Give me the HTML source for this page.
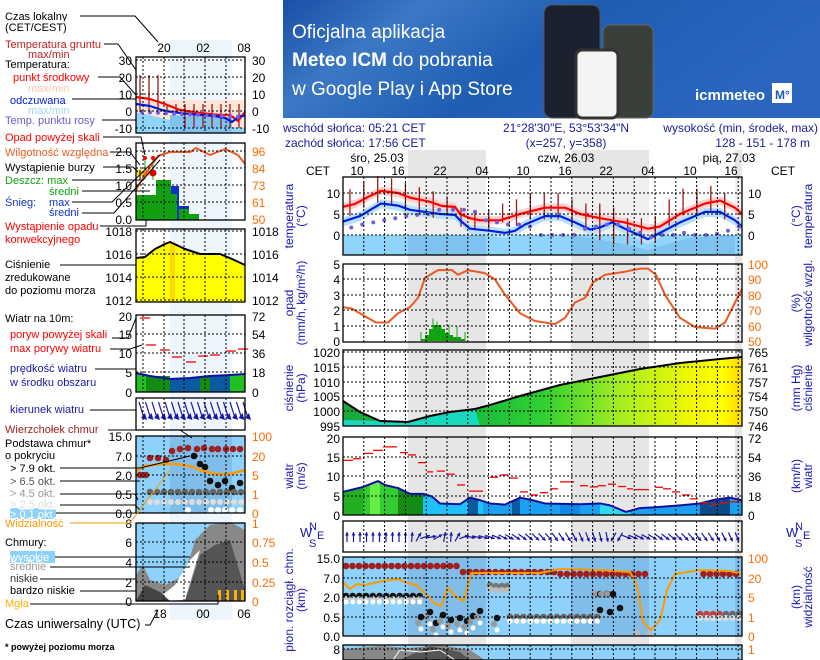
<!DOCTYPE html>
<html><head><meta charset="utf-8"><style>
html,body{margin:0;padding:0;background:#fff;width:820px;height:660px;overflow:hidden}
svg{display:block;font-family:"Liberation Sans",sans-serif}
</style></head><body>
<svg id="s" width="820" height="660" viewBox="0 0 820 660" xmlns="http://www.w3.org/2000/svg">
<defs>
<linearGradient id="ban" x1="0" y1="0" x2="1" y2="0.3"><stop offset="0" stop-color="#1a4fa8"/><stop offset="0.25" stop-color="#3b78c4"/><stop offset="0.55" stop-color="#1f5db4"/><stop offset="1" stop-color="#2a66c0"/></linearGradient>
<linearGradient id="pres" x1="0" y1="0" x2="1" y2="0"><stop offset="0" stop-color="#1aa83c"/><stop offset="0.3" stop-color="#16b840"/><stop offset="0.5" stop-color="#2fd030"/><stop offset="0.7" stop-color="#a8ee20"/><stop offset="0.88" stop-color="#f4f800"/><stop offset="0.95" stop-color="#ffff00"/><stop offset="1" stop-color="#ffd800"/></linearGradient>
</defs>
<rect x="283" y="0" width="537" height="118" fill="url(#ban)"/>
<text x="292" y="38" fill="#fff" font-size="19">Oficjalna aplikacja</text>
<text x="292" y="66" fill="#fff" font-size="19"><tspan font-weight="bold">Meteo ICM</tspan> do pobrania</text>
<text x="292" y="95" fill="#fff" font-size="19">w Google Play i App Store</text>
<rect x="544" y="5" width="56" height="113" rx="8" fill="#1a2230" stroke="#555"/>
<rect x="603" y="25" width="50" height="93" rx="7" fill="#3a3f3a" stroke="#666"/>
<rect x="576" y="50" width="42" height="68" rx="6" fill="#f4f4f4" stroke="#333" stroke-width="3"/>
<text x="695" y="100" fill="#fff" font-size="15" font-weight="bold">icmmeteo</text>
<rect x="772" y="83" width="20" height="20" fill="#fff"/><text x="775" y="99" fill="#1f5db4" font-size="12" font-weight="bold">M°</text>
</svg>
<script>
const S=document.getElementById('s');const NS='http://www.w3.org/2000/svg';
let PAR=S;
function el(t,a,txt){const e=document.createElementNS(NS,t);for(const k in a)e.setAttribute(k,a[k]);if(txt!==undefined)e.textContent=txt;PAR.appendChild(e);return e;}
function T(x,y,s,o){o=o||{};return el('text',Object.assign({x:x,y:y,'font-size':o.fs||12,fill:o.c||'#000','text-anchor':o.a||'start'},o.attr||{}),s);}
function L(x1,y1,x2,y2,c,w,d){return el('line',{x1,y1,x2,y2,stroke:c||'#000','stroke-width':w||1,'stroke-dasharray':d||''});}
function R(x,y,w,h,f,o){return el('rect',Object.assign({x,y,width:w,height:h,fill:f},o||{}));}
function P(pts,c,w,f){return el('polyline',{points:pts.map(p=>p.join(',')).join(' '),fill:f||'none',stroke:c,'stroke-width':w||1,'stroke-linejoin':'round'});}
function G(pts,f){return el('polygon',{points:pts.map(p=>p.join(',')).join(' '),fill:f});}
function C(x,y,r,f){return el('circle',{cx:x,cy:y,r:r,fill:f});}
function clipGroup(id,pts){const cp=el('clipPath',{id:id});PAR=cp;G(pts,'#000');PAR=S;const g=el('g',{'clip-path':'url(#'+id+')'});PAR=g;return g;}
// ---------- MAIN ----------
const X0=343,X1=742;const hx=t=>X0+t*6.94;
const panels=[[177,255],[264,342],[350,426],[437,515],[521,552],[557,636],[645,670]];
T(283,132,'wschód słońca: 05:21 CET',{c:'#1a1aa0'});T(285,147,'zachód słońca: 17:56 CET',{c:'#1a1aa0'});
T(566,132,'21°28\'30"E, 53°53\'34"N',{c:'#1a1aa0',a:'middle'});T(566,147,'(x=257,  y=358)',{c:'#1a1aa0',a:'middle'});
T(818,132,'wysokość (min, środek, max)',{c:'#1a1aa0',a:'end'});T(810,147,'128 - 151 - 178 m',{c:'#1a1aa0',a:'end'});
[[408,486],[571,649],[735,742]].forEach(b=>R(b[0],150,b[1]-b[0],510,'#e6e6e6'));
T(377,162,'śro, 25.03',{a:'middle'});T(566,162,'czw, 26.03',{a:'middle'});T(729,162,'pią, 27.03',{a:'middle'});
T(318,175,'CET',{a:'middle'});T(783,175,'CET',{a:'middle'});
[['10',357],['16',398],['22',440],['04',482],['10',523],['16',565],['22',606],['04',648],['10',690],['16',731]].forEach(h=>T(h[1],175,h[0],{a:'middle'}));
const ty=v=>235-v*4.2;
R(X0,177,X1-X0,78,'#fff');
[[408,486],[571,649],[735,742]].forEach(b=>R(b[0],177,b[1]-b[0],78,'#efefef'));
R(X0,235,X1-X0,20,'#8fd4fb');
G([[486,235],[571,235],[600,237],[648,244],[660,241],[680,235],[742,235],[742,255],[486,255]],'#8fd4fb');
G([[571,235],[600,240],[625,244],[648,250],[660,246],[690,238],[735,235],[735,255],[571,255]],'#7ec2ef');
R(408,235,78,20,'#7ec2ef');
const red=[[343,6.7],[355,7.4],[370,9.3],[381,10.5],[398,10],[410,8.9],[430,7.9],[442,6.9],[455,6.7],[460,5],[470,4],[480,3.5],[500,3.5],[520,5],[545,6.5],[565,6.5],[580,5],[600,4],[625,3],[648,1.5],[660,2],[680,5],[705,7.5],[720,8.2],[735,6.5],[742,5]];
const blu=[[343,3.2],[360,4.5],[381,7.5],[398,7],[410,6],[440,5],[455,4.8],[460,3.5],[470,1.5],[490,1],[505,0.5],[515,1],[525,2.5],[545,4.5],[560,4.5],[575,3],[590,1.3],[600,1.8],[612,3],[625,1.5],[648,-1],[660,0.5],[680,3],[705,5.5],[720,5.5],[735,3.5],[742,2]];
G(red.map(p=>[p[0],ty(p[1]+1)]).concat(red.slice().reverse().map(p=>[p[0],ty(p[1]-1)])),'#ffd0d0');
G(blu.map(p=>[p[0],ty(p[1]+1)]).concat(blu.slice().reverse().map(p=>[p[0],ty(p[1]-1.2)])),'#b8e2fb');
for(let t=1;t<57;t+=2){const x=hx(t);let base=red.find(p=>p[0]>=x)||red[red.length-1];let tv=base[1];let amp=(t<14||(t>24&&t<40)||t>46)?3.5:2.5;L(x,ty(tv+amp),x,ty(tv-amp*(t>36&&t<47?1.5:0.8)),'#a01818',1.3);}
P(red.map(p=>[p[0],ty(p[1])]),'#f00',2.2);P(blu.map(p=>[p[0],ty(p[1])]),'#0020e0',2.2);
const dew=[[1.5,1.8],[3.5,2.5],[5.5,3],[7.5,3.5],[9.5,4],[11.5,4.5],[13.5,4.8],[15.5,5],[17.5,6],[20,6],[22,6],[24,5.5],[26,3.5],[28,3],[30,2.5],[32,2.5],[34,2],[36,0],[38,0],[40,0],[42,0],[44,1.5],[46,2],[48,2.5],[50,2.5],[52,1.5],[54,0.5],[56,-0.5],[58,0],[60,0],[62,0.5],[64,0],[66,0],[68,0.3],[70,1],[72,2]];
dew.forEach(d=>{const x=343+d[0]*5.5;if(x<742)C(x,ty(d[1]),2,'#7060e0');});
const ry=v=>341-(v-50)*1.54;
[[421,1],[425,3],[429,6],[433,8],[437,8],[441,6],[445,4],[449,3],[453,2],[457,2],[461,1]].forEach(b=>{R(b[0],341-b[1]*2,4,b[1]*2,'#10a010');});
[[421,6],[433,15],[437,13],[441,10],[449,11],[457,10],[465,6]].forEach(b=>L(b[0],341,b[0],341-b[1]*1.5,'#10b010'));
P([[343,72],[352,71],[365,66],[376,62],[388,62],[398,68],[410,72],[418,78],[425,91],[438,96],[452,96],[458,93],[468,96],[485,94],[495,90],[505,80],[520,68],[535,63],[555,61],[565,65],[575,75],[585,78],[593,88],[605,93],[625,95],[640,97],[648,97],[656,93],[665,80],[680,65],[695,59],[715,58],[725,62],[735,75],[742,84]].map(p=>[p[0],ry(p[1])]),'#ec5a20',2);
const pp=[[343,401],[360,412],[380,421],[408,422],[430,416],[450,412],[475,409],[490,405],[520,396],[560,385],[600,377],[640,369],[680,363],[720,359],[742,357]];
G(pp.concat([[742,426],[343,426]]),'url(#pres)');
G([[343,420],[380,421],[408,422],[430,416],[450,412],[475,409],[480,426],[343,426]],'#19d8c0');
P(pp,'#000',2);
// wind
const wy=v=>515-v*3.85;
const wv=[[343,6],[362,7.2],[378,8.8],[385,7.8],[398,7],[410,5.5],[423,5.5],[432,4.8],[440,3],[460,2.8],[470,4.5],[478,4],[490,3],[505,2.7],[520,4.5],[530,4],[545,3],[580,2.8],[600,3],[610,2.5],[626,0.8],[640,1.8],[655,2],[680,2.5],[700,3],[715,4],[730,4.5],[742,3.8]];
const wpts=wv.map(p=>[p[0],wy(p[1])]);
clipGroup('wclip',wpts.concat([[742,515],[343,515]]));
R(343,437,80,78,'#33cc33');R(343,437,20,78,'#22b022');R(370,437,10,78,'#66ee44');R(398,437,25,78,'#128c12');
R(423,437,319,78,'#1aa0f0');R(423,437,60,78,'#20c0f8');
R(468,437,10,78,'#0a5aa0');R(512,437,8,78,'#0a5aa0');R(600,437,30,78,'#30d8f0');R(700,437,30,78,'#0a4a88');R(560,437,20,78,'#108ae8');
PAR=S;
P(wpts,'#1010a0',2);
[[343,14.2,10],[353,14.6,8],[363,16,10],[373,16.8,10],[383,17.7,14],[400,16.2,8],[408,15.6,8],[418,13.6,8],[427,11.2,6],[437,11.4,8],[447,10.6,8],[457,7.8,8],[469,6.2,14],[490,9.8,8],[500,10.4,8],[510,9.6,8],[520,6,8],[530,5.2,8],[540,5.8,8],[550,6.8,8],[560,8.6,14],[580,7.6,8],[590,7.3,8],[598,7.6,8],[608,8,8],[618,7.4,8],[627,6.8,6],[635,6.6,14],[655,7.2,8],[663,6.8,8],[672,6,8],[682,5.2,8],[690,4.2,8],[700,3.2,8],[710,2.8,8],[720,3.2,8],[730,3.4,8],[740,3.5,2]].forEach(g=>L(g[0],wy(g[1]),g[0]+g[2],wy(g[1]),'#f00',1.3));
for(let i=0;i<62;i++){const x=347+i*6.5;if(x>742)break;let ang;
 if(x<406)ang=-90;else if(x<470)ang=[-20,-10,-30,-80,-85,-60][i%6];else if(x<610)ang=10+(x-470)/140*70;else if(x<625)ang=120;else ang=20+(x-625)/117*50;
 const r=ang*Math.PI/180;const cx=x,cy=537,len=10;const dx=Math.cos(r)*len/2,dy=Math.sin(r)*len/2;
 L(cx-dx,cy-dy,cx+dx,cy+dy,'#1818a8',1.2);const hx2=cx+dx,hy2=cy+dy;
 el('polygon',{points:`${hx2},${hy2} ${hx2-Math.cos(r-0.5)*4},${hy2-Math.sin(r-0.5)*4} ${hx2-Math.cos(r+0.5)*4},${hy2-Math.sin(r+0.5)*4}`,fill:'#1818a8'});}
R(X0,557,X1-X0,79,'#8ed2fb');
[[408,486],[571,649],[735,742]].forEach(b=>R(b[0],557,b[1]-b[0],79,'#80bde8'));
for(let x=346;x<742;x+=6.5){if(x>650&&x<700)continue;const y=x<460?566:x<560?572:574;C(x,y,3.3,'#a02020');}
for(let x=346;x<420;x+=6.7){C(x,596,3.3,'#111');C(x,599,3,'#ccc');C(x,602,2.5,'#fff');}
[[421,617],[430,612],[436,623],[443,615],[451,620],[460,618],[467,621],[473,616],[480,611],[497,618]].forEach(p=>{C(p[0],p[1],3.3,'#111');C(p[0]-3,p[1]+6,3,'#999');C(p[0],p[1]+12,2.5,'#fff');});
[[490,585],[496,586],[502,586],[507,586]].forEach(p=>{C(p[0],p[1],3.3,'#777');C(p[0],p[1]+4,3,'#bbb');});
for(let x=510;x<600;x+=6.7){C(x,617,3.3,'#666');C(x,621,2.8,'#fff');}
[[600,610],[610,612],[620,608]].forEach(p=>C(p[0],p[1],3.3,'#111'));
[[600,594],[607,594],[613,594]].forEach(p=>{C(p[0],p[1],3.3,'#111');C(p[0]-6,p[1],3,'#999');});
[[637,633],[650,633]].forEach(p=>C(p[0],p[1],3.3,'#bbb'));
for(let x=700;x<742;x+=6.5){C(x,614,3.3,x<720?'#c04040':'#666');C(x,618,3,'#ddd');}
P([[343,582],[350,589],[357,584],[365,585],[378,582],[390,580],[397,579],[408,583],[416,585],[425,593],[434,603],[441,606],[448,588],[456,597],[464,601],[471,573],[540,573],[560,569],[600,570],[630,572],[637,585],[643,622],[651,630],[660,620],[667,590],[675,574],[700,570],[730,571],[742,574]],'#ff9900',2);
R(X0,645,X1-X0,20,'#8ed2fb');G([[343,660],[343,649],[380,646],[410,648],[440,645],[470,650],[485,660]],'#888');G([[400,660],[430,646],[460,652],[470,660]],'#555');P([[393,660],[400,650],[420,652],[440,650],[455,660]],'#fff',1);
const ticks=[[[10,193],[5,214],[0,235]],[[5,264],[4,279],[3,295],[2,310],[1,326],[0,341]],[[1020,352],[1015,367],[1010,382],[1005,396],[1000,411],[995,426]],[[20,438],[15,457],[10,476],[5,496],[0,515]],[],[['15.0',558],['7.0',578],['2.0',597],['0.5',617],['0.0',636]],[['8',649]]];
const rt=[[[10,193],[5,214],[0,235]],[[100,264],[90,279],[80,295],[70,310],[60,326],[50,341]],[[765,352],[761,367],[757,382],[754,396],[750,411],[746,426]],[[72,438],[54,457],[36,476],[18,496],[0,515]],[],[[100,558],[20,578],[5,597],[1,617],[0,636]],[[1,649]]];
panels.forEach((p,i)=>{const y0=p[0],y1=Math.min(p[1],660);
 for(let k=1;k<20;k++){const x=X0+k*20.8;if(x<X1)L(x,y0,x,y1,'#000',1,'2,2');}
 ticks[i].forEach(t=>{if(t[1]>y0+1&&t[1]<y1-1)L(X0,t[1],X1,t[1],'#000',1,'2,2');T(340,t[1]+5,String(t[0]),{a:'end'});});
 rt[i].forEach(t=>T(748,t[1]+5,String(t[0]),{c:(i==1||i==5||i==6)?'#ff6a00':'#000'}));
 el('rect',{x:X0,y:y0,width:X1-X0,height:y1-y0,fill:'none',stroke:'#000','stroke-width':1.3});});
function rot(x,y,lines,c,fs){lines.forEach((s,i)=>{el('text',{x:0,y:0,'font-size':fs||12,fill:c||'#1818b0','text-anchor':'middle',transform:`translate(${x+i*12},${y}) rotate(-90)`},s);});}
rot(293,216,['temperatura','(°C)']);rot(800,216,['(°C)','temperatura']);
rot(293,303,['opad','(mm/h, kg/m²/h)']);rot(800,303,['(%)','wilgotność wzgl.']);
rot(293,388,['ciśnienie','(hPa)']);rot(800,388,['(mm Hg)','ciśnienie']);
rot(293,476,['wiatr','(m/s)']);rot(800,476,['(km/h)','wiatr']);
rot(293,600,['pion. rozciągł. chm.','(km)']);rot(800,597,['(km)','widzialność']);
T(786,537,'W',{c:'#1818b0',fs:13});T(795,530,'N',{c:'#1818b0',fs:11});T(795,547,'S',{c:'#1818b0',fs:11});T(803,539,'E',{c:'#1818b0',fs:11});
T(300,537,'W',{c:'#1818b0',fs:13});T(309,530,'N',{c:'#1818b0',fs:11});T(309,547,'S',{c:'#1818b0',fs:11});T(317,539,'E',{c:'#1818b0',fs:11});
// ---------- LEFT MINI ----------
const MX0=136,MX1=245;
R(170,40,62,580,'#eef5fd');
T(164,52,'20',{a:'middle'});T(203,52,'02',{a:'middle'});T(244,52,'08',{a:'middle'});
const mp=[[57,133],[143,220],[229,302],[315,392],[398,430],[436,513],[523,601]];
R(MX0,100,109,33,'#ffe4d8');G([[136,112],[170,120],[200,125],[245,128],[245,133],[136,133]],'#8fd4fb');G([[170,133],[170,115],[232,118],[232,133]],'#7ec2ef');
for(let x=140;x<245;x+=9)L(x,x<160?75:104,x,x<180?112:128,'#a01818',1.3);
P([[136,97],[150,99],[165,104],[180,110],[200,113],[220,115],[230,115],[238,121],[245,112]],'#f00',2.2);
P([[136,104],[150,106],[165,111],[180,113],[200,115],[215,116],[225,118],[232,122],[240,116],[245,116]],'#0020e0',2.2);
for(let x=142;x<245;x+=8)C(x,112+(x-142)/20,2,'#7060e0');
R(136,195,20,25,'#10a010');R(156,180,15,40,'#10a010');R(171,186,8,34,'#1030d0');R(171,194,6,26,'#10a010');R(179,206,10,14,'#1030d0');R(179,209,10,11,'#10a010');R(189,214,10,6,'#10a010');
L(145,158,145,180,'#10a010');L(153,158,153,180,'#10a010');C(145,158,2,'#f00');C(153,158,2,'#f00');
C(140,173,3.5,'#ffe000');C(146,173,3.5,'#f0a000');C(153,173,3.5,'#e00000');
P([[136,190],[144,176],[158,156],[170,152],[190,152],[196,148],[210,155],[225,149],[238,155],[245,164]],'#ec5a20',2);
G([[136,258],[145,257],[155,249],[165,244],[170,242],[185,249],[200,254],[220,254],[232,259],[245,265],[245,302],[136,302]],'#ffff00');
R(170,242,5,60,'#ffd800');
P([[136,258],[145,257],[155,249],[165,244],[170,242],[185,249],[200,254],[220,254],[232,259],[245,265]],'#000',2);
G([[136,373],[150,376],[170,379],[190,378],[210,376],[230,375],[245,374],[245,392],[136,392]],'#0a5aa0');
R(136,374,10,18,'#22c022');R(146,376,24,16,'#128c12');R(200,378,10,14,'#128c12');R(230,375,15,17,'#22c022');
P([[136,373],[150,376],[170,379],[190,378],[210,376],[230,375],[245,374]],'#1010a0',2);
[[140,318],[146,345],[160,350],[172,357],[186,362],[198,356],[210,355],[226,351],[238,349]].forEach(g=>L(g[0],g[1],g[0]+10,g[1],'#f00',1.3));
for(let x=142;x<248;x+=6.5){L(x-3,402,x+2,418,'#1818a8',1.2);el('polygon',{points:`${x+5},${420} ${x-1},${418} ${x+3},${413}`,fill:'#1818a8'});}
R(MX0,436,109,77,'#8ed2fb');R(170,436,62,77,'#80bde8');
[[140,475],[146,475],[150,458],[158,458],[166,460],[172,451],[180,449],[188,448],[197,449],[204,448],[212,449],[218,449],[226,449],[233,449],[240,449]].forEach(p=>C(p[0],p[1],3.3,'#a02020'));
[[194,456],[200,464],[205,467],[210,481],[218,485],[225,481],[232,488],[240,483]].forEach(p=>C(p[0],p[1],3.3,'#111'));
for(let x=150;x<245;x+=7){C(x,492,3.3,'#666');C(x,502,3,'#ddd');}
[[188,510],[211,510],[218,510],[225,510],[232,510],[240,510]].forEach(p=>C(p[0],p[1],3,'#fff'));
P([[136,471],[145,466],[160,464],[175,464],[190,466],[200,470],[215,474],[230,474],[245,470]],'#ff9900',2.5);
R(MX0,523,109,78,'#8ed2fb');
G([[136,601],[136,575],[143,565],[150,580],[165,585],[185,575],[195,540],[210,525],[230,522],[245,530],[245,601]],'#888');
G([[155,601],[175,585],[190,560],[200,550],[185,600]],'#fff');
G([[185,601],[200,555],[215,545],[230,540],[245,590],[245,601]],'#555');
G([[136,601],[145,585],[160,592],[170,601]],'#444');
[218,226,234,241].forEach(x=>R(x,590,3,11,'#ffb000'));
const mt=[[[30,60],[20,77],[10,94],[0,111],[-10,128]],[['2.0',151],['1.5',168],['1.0',185],['0.5',202],['0.0',219]],[[1018,231],[1016,254],[1014,277],[1012,300]],[[20,316],[15,334],[10,353],[5,372],[0,392]],[],[['15.0',436],['7.0',456],['2.0',475],['0.5',494],['0.0',513]],[[8,523],[6,542],[4,562],[2,582],[0,601]]];
const mr=[[[30,60],[20,77],[10,94],[0,111],[-10,128]],[[96,151],[84,168],[73,185],[61,202],[50,219]],[[1018,231],[1016,254],[1014,277],[1012,300]],[[72,316],[54,334],[36,353],[18,372],[0,392]],[],[[100,436],[20,456],[5,475],[1,494],[0,513]],[[1,523],['0.75',542],['0.5',562],['0.25',582],[0,601]]];
mp.forEach((p,i)=>{[143,164,184,205,226].forEach(x=>L(x,p[0],x,p[1],'#000',1,'2,2'));
 mt[i].forEach(t=>{if(t[1]>p[0]+1&&t[1]<p[1]-1)L(MX0,t[1],MX1,t[1],'#000',1,'2,2');T(132,t[1]+5,String(t[0]),{a:'end'});});
 mr[i].forEach(t=>T(252,t[1]+5,String(t[0]),{c:(i==1||i>=5)?'#ff6a00':'#000'}));
 el('rect',{x:MX0,y:p[0],width:109,height:p[1]-p[0],fill:'none',stroke:'#000','stroke-width':1.3});});
T(160,618,'18',{a:'middle'});T(203,618,'00',{a:'middle'});T(244,618,'06',{a:'middle'});
// leader lines
[[[80,16],[135,16],[158,42]],[[104,44],[118,44],[136,70]],[[98,77],[120,77],[136,95]],[[72,99],[136,99]],[[102,120],[136,120]],[[103,137],[141,137],[145,155]],[[110,152],[130,152],[140,165]],[[103,167],[133,167],[138,172]],[[72,180],[140,180],[140,170]],[[82,191],[150,191]],[[72,202],[112,202],[160,155]],[[82,213],[114,213],[160,160]],[[100,226],[146,226],[146,220]],[[60,265],[136,265]],[[112,338],[128,338],[136,318]],[[110,349],[130,349],[142,345]],[[95,369],[136,369]],[[90,410],[136,410]],[[108,430],[180,430],[192,438]],[[60,468],[140,468],[190,456]],[[60,481],[140,481]],[[60,494],[135,494],[138,500]],[[60,505],[135,505],[140,510]],[[56,513],[140,513]],[[54,557],[190,557]],[[50,567],[190,567]],[[40,579],[136,579]],[[80,591],[136,591]],[[30,604],[218,604],[218,595]],[[145,625],[150,625],[158,610]]].forEach(l=>P(l,'#000',1));
P([[70,523],[130,523],[170,470]],'#ff9900',1);
// left labels
const FS=11;
const LB=[['Czas lokalny',5,20,'#000'],['(CET/CEST)',5,31,'#000'],['Temperatura gruntu',5,48,'#c02020'],['max/min',28,58,'#c02020'],['Temperatura:',5,68,'#000'],['punkt środkowy',13,81,'#f00'],['max/min',28,92,'#ffc8b0'],['odczuwana',10,104,'#0020e0'],['max/min',28,114,'#a0d8f0'],['Temp. punktu rosy',5,124,'#6a5acd'],['Opad powyżej skali',5,141,'#f00'],['Wilgotność względna',5,156,'#ec5a20'],['Wystąpienie burzy',5,171,'#000'],['Deszcz: max',5,184,'#10a010'],['średni',49,195,'#10a010'],['Śnieg:',5,206,'#1030d0'],['max',49,206,'#1030d0'],['średni',49,216,'#1030d0'],['Wystąpienie opadu',5,230,'#f00'],['konwekcyjnego',5,243,'#f00'],['Ciśnienie',5,268,'#000'],['zredukowane',5,281,'#000'],['do poziomu morza',5,294,'#000'],['Wiatr na 10m:',5,322,'#000'],['poryw powyżej skali',10,338,'#f00'],['max porywy wiatru',10,352,'#f00'],['prędkość wiatru',10,372,'#1818a8'],['w środku obszaru',10,386,'#1818a8'],['kierunek wiatru',10,413,'#1818a8'],['Wierzchołek chmur',5,433,'#a02020'],['Podstawa chmur*',5,447,'#000'],['o pokryciu',5,459,'#000'],['> 7.9 okt.',10,472,'#000'],['> 6.5 okt.',10,485,'#555'],['> 4.5 okt.',10,497,'#999'],['> 2.5 okt.',10,508,'#ddd'],['Widzialność',5,527,'#ff9900'],['Chmury:',5,546,'#000'],['średnie',10,570,'#999'],['niskie',10,582,'#333'],['bardzo niskie',10,594,'#000'],['Mgła',5,607,'#ffb000']];
R(10,508,46,11,'#8ed2fb');R(10,551,45,12,'#8ed2fb');
LB.forEach(l=>{const b=R(l[1]-1,l[2]-10,1,1,'none');T(l[1],l[2],l[0],{c:l[3],fs:FS,attr:{stroke:'#fff','stroke-width':3,'paint-order':'stroke'}});});
T(10,518,'> 0.1 okt.',{c:'#fff',fs:FS});T(10,561,'wysokie',{c:'#fff',fs:FS});
T(5,628,'Czas uniwersalny (UTC)',{fs:12.5});T(5,650,'* powyżej poziomu morza',{fs:9,attr:{'font-weight':'bold'}});
</script>
</body></html>
